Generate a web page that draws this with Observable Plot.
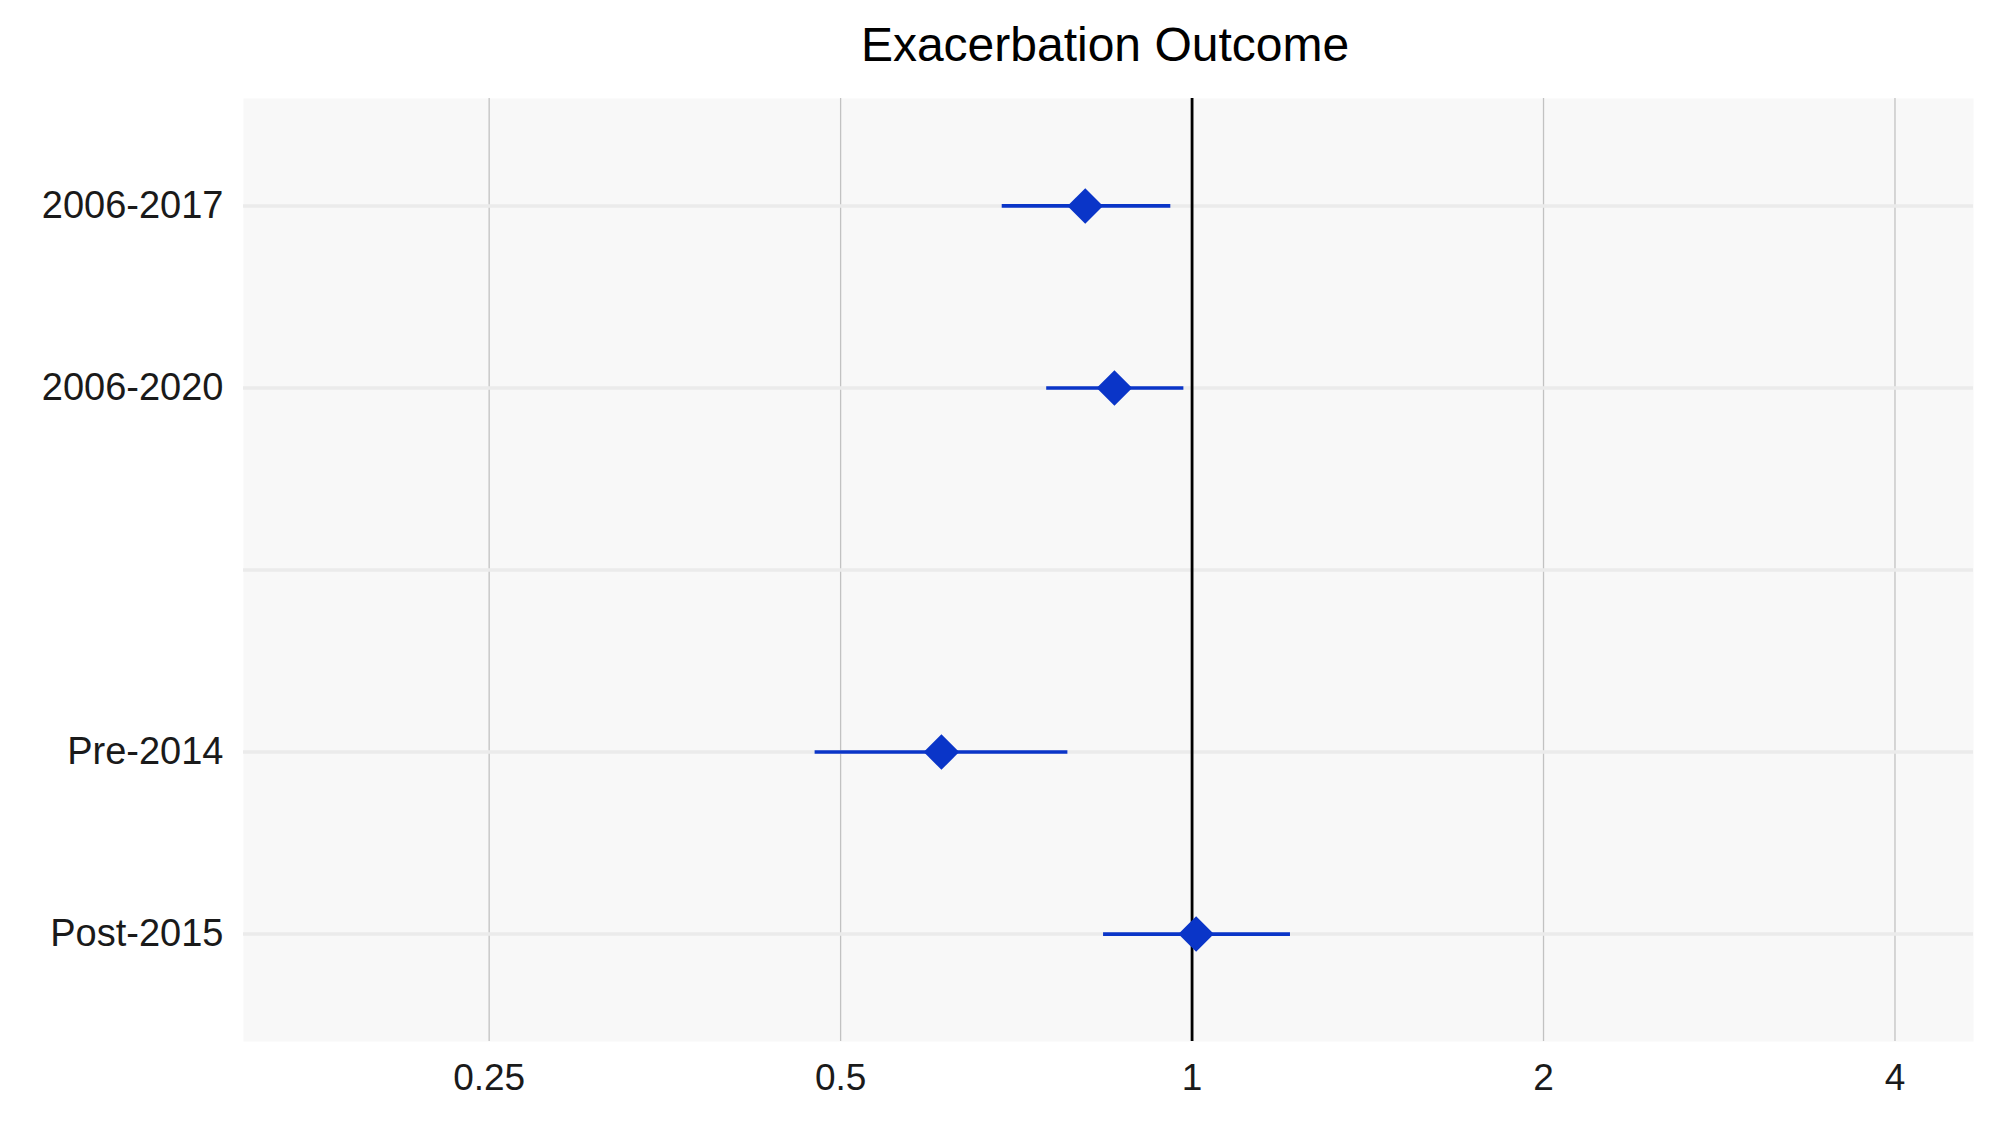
<!DOCTYPE html>
<html>
<head>
<meta charset="utf-8">
<script src="https://cdn.jsdelivr.net/npm/d3@7"></script>
<script src="https://cdn.jsdelivr.net/npm/@observablehq/plot@0.6"></script>
<style>
  body { margin: 0; background: #fff; font-family: "Liberation Sans", Arial, sans-serif; }
  #title { height: 90px; line-height: 90px; text-align: center; font-size: 48px; color: #000; padding-left: 215px; }
</style>
</head>
<body>
<div id="title">Exacerbation Outcome</div>
<div id="chart"></div>
<script>
const labels = ['2006-2017', '2006-2020', 'Pre-2014', 'Post-2015']
const rows = [1, 2, 4, 5]
const est = [0.810, 0.858, 0.610, 1.008]
const lo = [0.687, 0.750, 0.475, 0.839]
const hi = [0.958, 0.983, 0.782, 1.213]
const xTicks = [0.25, 0.5, 1, 2, 4]

const data = labels.map((l, i) => ({ label: l, row: rows[i], est: est[i], lo: lo[i], hi: hi[i] }))
const rowLabel = new Map(rows.map((r, i) => [r, labels[i]]))

const chart = Plot.plot({
  width: 1995,
  height: 1038,
  marginTop: 8,
  marginBottom: 87,
  marginLeft: 243,
  marginRight: 22,
  style: { fontFamily: '"Liberation Sans", Arial, sans-serif', fontSize: '37px', background: '#fff' },
  x: { type: 'log', base: 2, domain: [0.154, 4.67], ticks: xTicks, tickFormat: d => String(d), label: null },
  y: { domain: [5.59, 0.41], label: null },
  marks: [
    Plot.frame({ fill: '#f8f8f8', stroke: 'none' }),
    Plot.ruleX(xTicks.filter(d => d !== 1), { stroke: '#c2c2c2', strokeWidth: 1.3 }),
    Plot.ruleY([1, 2, 3, 4, 5], { stroke: '#ebebeb', strokeWidth: 3.5 }),
    Plot.ruleX([1], { stroke: '#000', strokeWidth: 2.8 }),
    Plot.link(data, { x1: 'lo', x2: 'hi', y1: 'row', y2: 'row', stroke: '#0a35c8', strokeWidth: 3.6 }),
    Plot.dot(data, { x: 'est', y: 'row', symbol: 'diamond2', r: 16, fill: '#0a35c8', stroke: 'none' }),
    Plot.axisX(xTicks, { tickSize: 0, tickPadding: 22, fontSize: 37, fill: '#1a1a1a' }),
    Plot.axisY([1, 2, 3, 4, 5], { tickSize: 0, tickPadding: 20, fontSize: 38, fill: '#1a1a1a', tickFormat: d => rowLabel.get(d) ?? '' })
  ]
})

d3.select('#chart').append(() => chart)
</script>
</body>
</html>
